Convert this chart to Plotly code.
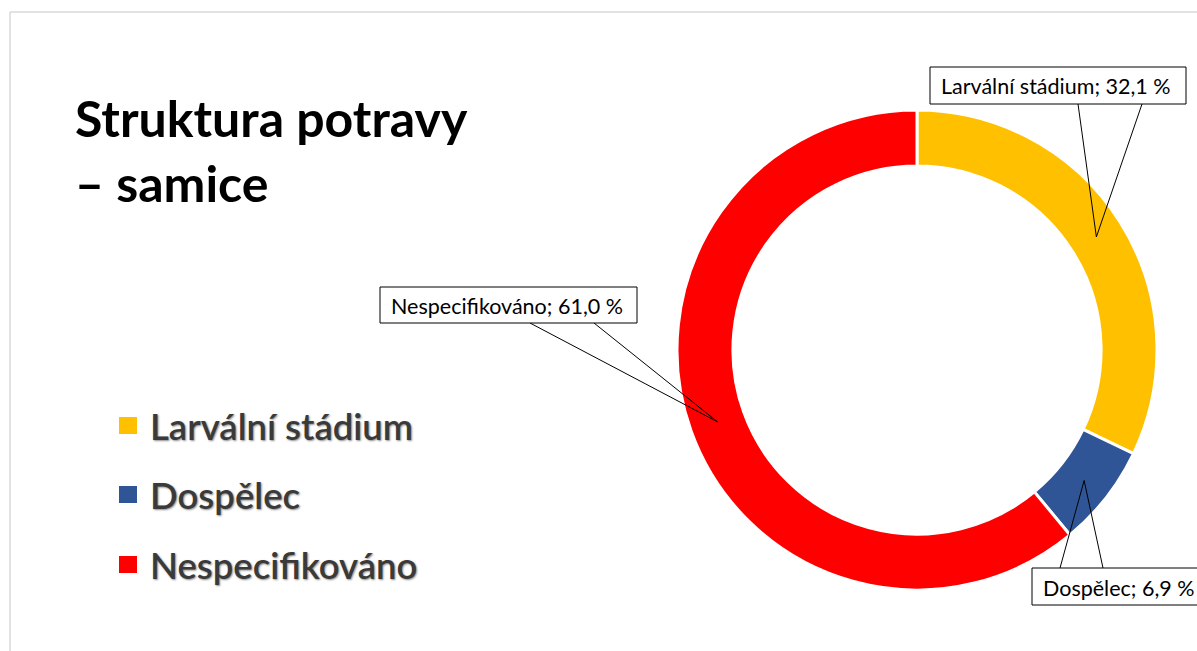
import math
import plotly.graph_objects as go

# ---- data ----
categories = ["Larvální stádium", "Dospělec", "Nespecifikováno"]
values = [32.1, 6.9, 61.0]
colors = ["#FFC000", "#2F5597", "#FF0000"]
title_lines = ["Struktura potravy", "– samice"]

W, H = 1197, 651
CX, CY, R = 917, 350, 240
HOLE = 0.767

def px(x):
    return x / W

def py(y):
    return 1 - y / H

fig = go.Figure()
fig.add_trace(go.Pie(
    labels=categories, values=values, sort=False, direction="clockwise",
    rotation=0, hole=HOLE, textinfo="none", hoverinfo="label+percent",
    marker=dict(colors=colors, line=dict(color="white", width=3)),
    domain=dict(x=[px(CX - R), px(CX + R)], y=[py(CY + R), py(CY - R)]),
    showlegend=False,
))

shapes = []
annotations = []

# slide outline
shapes.append(dict(type="line", xref="paper", yref="paper", x0=px(10), x1=1.0,
                   y0=py(12), y1=py(12), line=dict(color="#D9D9D9", width=1.5)))
shapes.append(dict(type="line", xref="paper", yref="paper", x0=px(10), x1=px(10),
                   y0=py(12), y1=0.0, line=dict(color="#D9D9D9", width=1.5)))

# title
annotations.append(dict(
    text="<br>".join(title_lines), xref="paper", yref="paper",
    x=px(73), y=py(86), xanchor="left", yanchor="top", align="left",
    showarrow=False, font=dict(family="Lato", size=50, color="black", weight="bold"),
))

# legend (manual)
leg_y = [425.5, 494.5, 564.5]
for cat, col, yy in zip(categories, colors, leg_y):
    shapes.append(dict(type="rect", xref="paper", yref="paper",
                       x0=px(119), x1=px(137), y0=py(yy - 8.5), y1=py(yy + 8.5),
                       fillcolor=col, line=dict(width=0)))
    annotations.append(dict(
        text=cat, xref="paper", yref="paper", x=px(148), y=py(yy),
        xanchor="left", yanchor="middle", showarrow=False,
        font=dict(family="Lato", size=36.5, color="#3A3A3A", weight=600,
                  shadow="1px 1px 2px rgba(0,0,0,0.45)"),
    ))

# callout labels
boxes = [  # (x0, y0, x1, y1, base_a, base_b) in pixels
    (930, 67, 1186, 104, 1078, 1142),
    (1032, 568, 1215, 605, 1060, 1103),
    (380, 287, 637, 323, 530, 594),
]
total = sum(values)
cum = 0.0
r_mid = R * (1 + HOLE) / 2
for cat, v, (x0, y0, x1, y1, ba, bb) in zip(categories, values, boxes):
    mid = (cum + v / 2) / total * 2 * math.pi
    cum += v
    ax = CX + r_mid * math.sin(mid)
    ay = CY - r_mid * math.cos(mid)
    base_y = y1 if ay > y1 else y0
    shapes.append(dict(type="path", xref="paper", yref="paper",
                       path=f"M {px(ba)} {py(base_y)} L {px(ax)} {py(ay)} L {px(bb)} {py(base_y)}",
                       line=dict(color="black", width=1)))
    shapes.append(dict(type="rect", xref="paper", yref="paper",
                       x0=px(x0), x1=px(x1), y0=py(y1), y1=py(y0),
                       fillcolor="white", line=dict(color="black", width=1)))
    label = f"{cat}; {v:.1f} %".replace(".", ",")
    annotations.append(dict(
        text=label, xref="paper", yref="paper", x=px(x0 + 9), y=py((y0 + y1) / 2 + 1),
        xanchor="left", yanchor="middle", showarrow=False,
        font=dict(family="Lato", size=21.5, color="black"),
    ))

fig.update_layout(
    width=W, height=H, margin=dict(l=0, r=0, t=0, b=0),
    paper_bgcolor="white", plot_bgcolor="white",
    shapes=shapes, annotations=annotations,
)
fig.write_html("out.html", config={"displayModeBar": False},
               post_script="document.body.style.margin='0';")
